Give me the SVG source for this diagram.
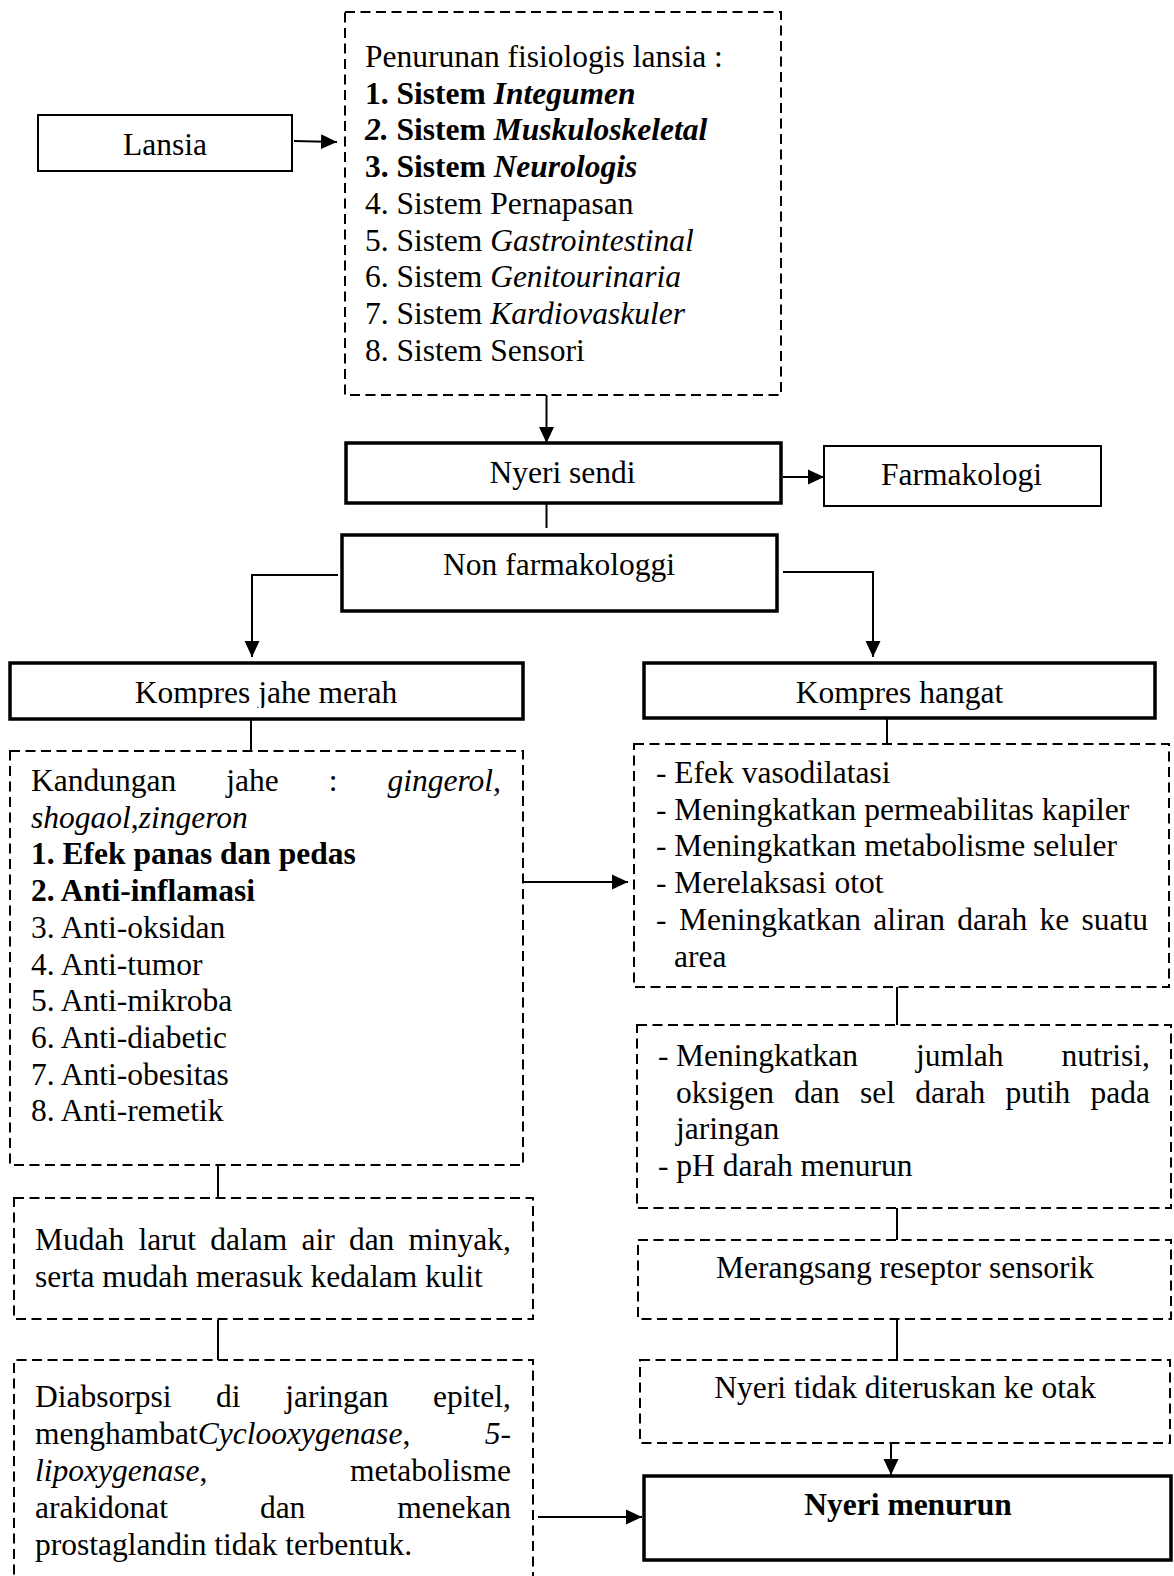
<svg xmlns="http://www.w3.org/2000/svg" width="1174" height="1576" viewBox="0 0 1174 1576">
<style>
text{font-family:"Liberation Serif","Times New Roman",serif;font-size:31.5px;fill:#000}
.c{text-anchor:middle}
.b{font-weight:bold}
.i{font-style:italic}
.dash{fill:#fff;stroke:#000;stroke-width:2;stroke-dasharray:10 5.5}
.thin{fill:#fff;stroke:#000;stroke-width:2}
.thick{fill:#fff;stroke:#000;stroke-width:3.5}
.ln{fill:none;stroke:#000;stroke-width:2}
.arr{marker-end:url(#ah)}
</style>
<defs>
<marker id="ah" markerUnits="userSpaceOnUse" markerWidth="18" markerHeight="18" viewBox="0 0 18 18" refX="16" refY="8" orient="auto">
<path d="M0,0.5 L16,8 L0,15.5 z" fill="#000"/>
</marker>
<clipPath id="clipL" clipPathUnits="userSpaceOnUse"><rect x="10" y="663" width="513" height="45"/></clipPath>
<clipPath id="clipR" clipPathUnits="userSpaceOnUse"><rect x="644" y="663" width="511" height="49"/></clipPath>
</defs>
<rect width="1174" height="1576" fill="#fff"/>

<g id="connectors">
<line class="ln arr" x1="294" y1="141" x2="337" y2="142"/>
<line class="ln arr" x1="546.5" y1="383" x2="546.5" y2="443"/>
<line class="ln arr" x1="783" y1="477" x2="824" y2="477"/>
<line class="ln" x1="546.5" y1="504" x2="546.5" y2="528"/>
<polyline class="ln arr" points="338,575 252,575 252,657"/>
<polyline class="ln arr" points="783,572 873,572 873,657"/>
<line class="ln" x1="251" y1="719" x2="251" y2="751"/>
<line class="ln" x1="887" y1="718" x2="887" y2="745"/>
<line class="ln arr" x1="523" y1="882" x2="628" y2="882"/>
<line class="ln" x1="897" y1="987" x2="897" y2="1025"/>
<line class="ln" x1="218" y1="1165" x2="218" y2="1198"/>
<line class="ln" x1="218" y1="1320" x2="218" y2="1360"/>
<line class="ln" x1="897" y1="1208" x2="897" y2="1240"/>
<line class="ln" x1="897" y1="1319" x2="897" y2="1360"/>
<line class="ln arr" x1="891" y1="1443" x2="891" y2="1475"/>
<line class="ln arr" x1="538" y1="1517" x2="642" y2="1517"/>
</g>

<g id="lansia">
<rect class="thin" x="38" y="115" width="254" height="56"/>
<text class="c" x="165" y="155">Lansia</text>
</g>

<g id="penurunan">
<rect class="dash" x="345" y="12" width="436" height="383"/>
<text x="365" y="67">Penurunan fisiologis lansia :</text>
<text x="365" y="103.7" class="b">1. Sistem <tspan class="i">Integumen</tspan></text>
<text x="365" y="140.4" class="b"><tspan class="i">2.</tspan> Sistem <tspan class="i">Muskuloskeletal</tspan></text>
<text x="365" y="177.1" class="b">3. Sistem <tspan class="i">Neurologis</tspan></text>
<text x="365" y="213.8">4. Sistem Pernapasan</text>
<text x="365" y="250.5">5. Sistem <tspan class="i">Gastrointestinal</tspan></text>
<text x="365" y="287.2">6. Sistem <tspan class="i">Genitourinaria</tspan></text>
<text x="365" y="323.9">7. Sistem <tspan class="i">Kardiovaskuler</tspan></text>
<text x="365" y="360.6">8. Sistem Sensori</text>
</g>

<g id="nyeri-sendi">
<rect class="thick" x="346" y="443" width="435" height="60"/>
<text class="c" x="562.5" y="483">Nyeri sendi</text>
</g>

<g id="farmakologi">
<rect class="thin" x="824" y="446" width="277" height="60"/>
<text class="c" x="961.6" y="485">Farmakologi</text>
</g>

<g id="non-farmakologi">
<rect class="thick" x="342" y="535" width="435" height="76"/>
<text class="c" x="559" y="575">Non farmakologgi</text>
</g>

<g id="kompres-jahe">
<rect class="thick" x="10" y="663" width="513" height="56"/>
<text class="c" x="266" y="703" clip-path="url(#clipL)">Kompres jahe merah</text>
</g>

<g id="kompres-hangat">
<rect class="thick" x="644" y="663" width="511" height="55"/>
<text class="c" x="899.5" y="703" clip-path="url(#clipR)">Kompres hangat</text>
</g>

<g id="kandungan">
<rect class="dash" x="10" y="751" width="513" height="414"/>
<text y="791"><tspan x="31">Kandungan</tspan><tspan x="226.2">jahe</tspan><tspan x="328.7">:</tspan><tspan x="387.5" class="i">gingerol,</tspan></text>
<text x="31" y="827.7"><tspan class="i">shogaol</tspan>,<tspan class="i">zingeron</tspan></text>
<text x="31" y="864.4" class="b">1. Efek panas dan pedas</text>
<text x="31" y="901.1" class="b">2. Anti-inflamasi</text>
<text x="31" y="937.8">3. Anti-oksidan</text>
<text x="31" y="974.5">4. Anti-tumor</text>
<text x="31" y="1011.2">5. Anti-mikroba</text>
<text x="31" y="1047.9">6. Anti-diabetic</text>
<text x="31" y="1084.6">7. Anti-obesitas</text>
<text x="31" y="1121.3">8. Anti-remetik</text>
</g>

<g id="mudah-larut">
<rect class="dash" x="14" y="1198" width="519" height="121"/>
<text y="1250"><tspan x="35">Mudah</tspan><tspan x="138.4">larut</tspan><tspan x="210.3">dalam</tspan><tspan x="301.5">air</tspan><tspan x="348.9">dan</tspan><tspan x="408.6">minyak,</tspan></text>
<text x="35" y="1287">serta mudah merasuk kedalam kulit</text>
</g>

<g id="diabsorpsi">
<path class="dash" d="M14,1590 V1360 H533 V1590" />
<text y="1407"><tspan x="35">Diabsorpsi</tspan><tspan x="216.1">di</tspan><tspan x="285.2">jaringan</tspan><tspan x="433">epitel,</tspan></text>
<text x="35" y="1444">menghambat<tspan class="i">Cyclooxygenase</tspan>,</text>
<text x="511" y="1444" class="i" text-anchor="end">5-</text>
<text x="35" y="1481"><tspan class="i">lipoxygenase</tspan>,</text>
<text x="511" y="1481" text-anchor="end">metabolisme</text>
<text y="1518"><tspan x="35">arakidonat</tspan><tspan x="259.9">dan</tspan><tspan x="397.3">menekan</tspan></text>
<text x="35" y="1555">prostaglandin tidak terbentuk.</text>
</g>

<g id="efek-hangat">
<rect class="dash" x="634" y="744" width="535" height="243"/>
<text x="656" y="783">- Efek vasodilatasi</text>
<text x="656" y="820">- Meningkatkan permeabilitas kapiler</text>
<text x="656" y="856">- Meningkatkan metabolisme seluler</text>
<text x="656" y="893">- Merelaksasi otot</text>
<text y="930"><tspan x="656">-</tspan><tspan x="679">Meningkatkan</tspan><tspan x="873.3">aliran</tspan><tspan x="957.3">darah</tspan><tspan x="1039.6">ke</tspan><tspan x="1081.6">suatu</tspan></text>
<text x="674" y="967">area</text>
</g>

<g id="nutrisi">
<rect class="dash" x="637" y="1025" width="534" height="183"/>
<text y="1066"><tspan x="658">-</tspan><tspan x="676">Meningkatkan</tspan><tspan x="916">jumlah</tspan><tspan x="1061.6">nutrisi,</tspan></text>
<text y="1103"><tspan x="676">oksigen</tspan><tspan x="794.2">dan</tspan><tspan x="860">sel</tspan><tspan x="915.2">darah</tspan><tspan x="1005.5">putih</tspan><tspan x="1090.5">pada</tspan></text>
<text x="676" y="1139">jaringan</text>
<text x="658" y="1176">- pH darah menurun</text>
</g>

<g id="merangsang">
<rect class="dash" x="638" y="1240" width="533" height="79"/>
<text class="c" x="905" y="1278">Merangsang reseptor sensorik</text>
</g>

<g id="nyeri-tidak">
<rect class="dash" x="640" y="1360" width="530" height="83"/>
<text class="c" x="905" y="1398">Nyeri tidak diteruskan ke otak</text>
</g>

<g id="nyeri-menurun">
<rect class="thick" x="644" y="1476" width="527" height="84"/>
<text class="c b" x="908" y="1515">Nyeri menurun</text>
</g>
</svg>
